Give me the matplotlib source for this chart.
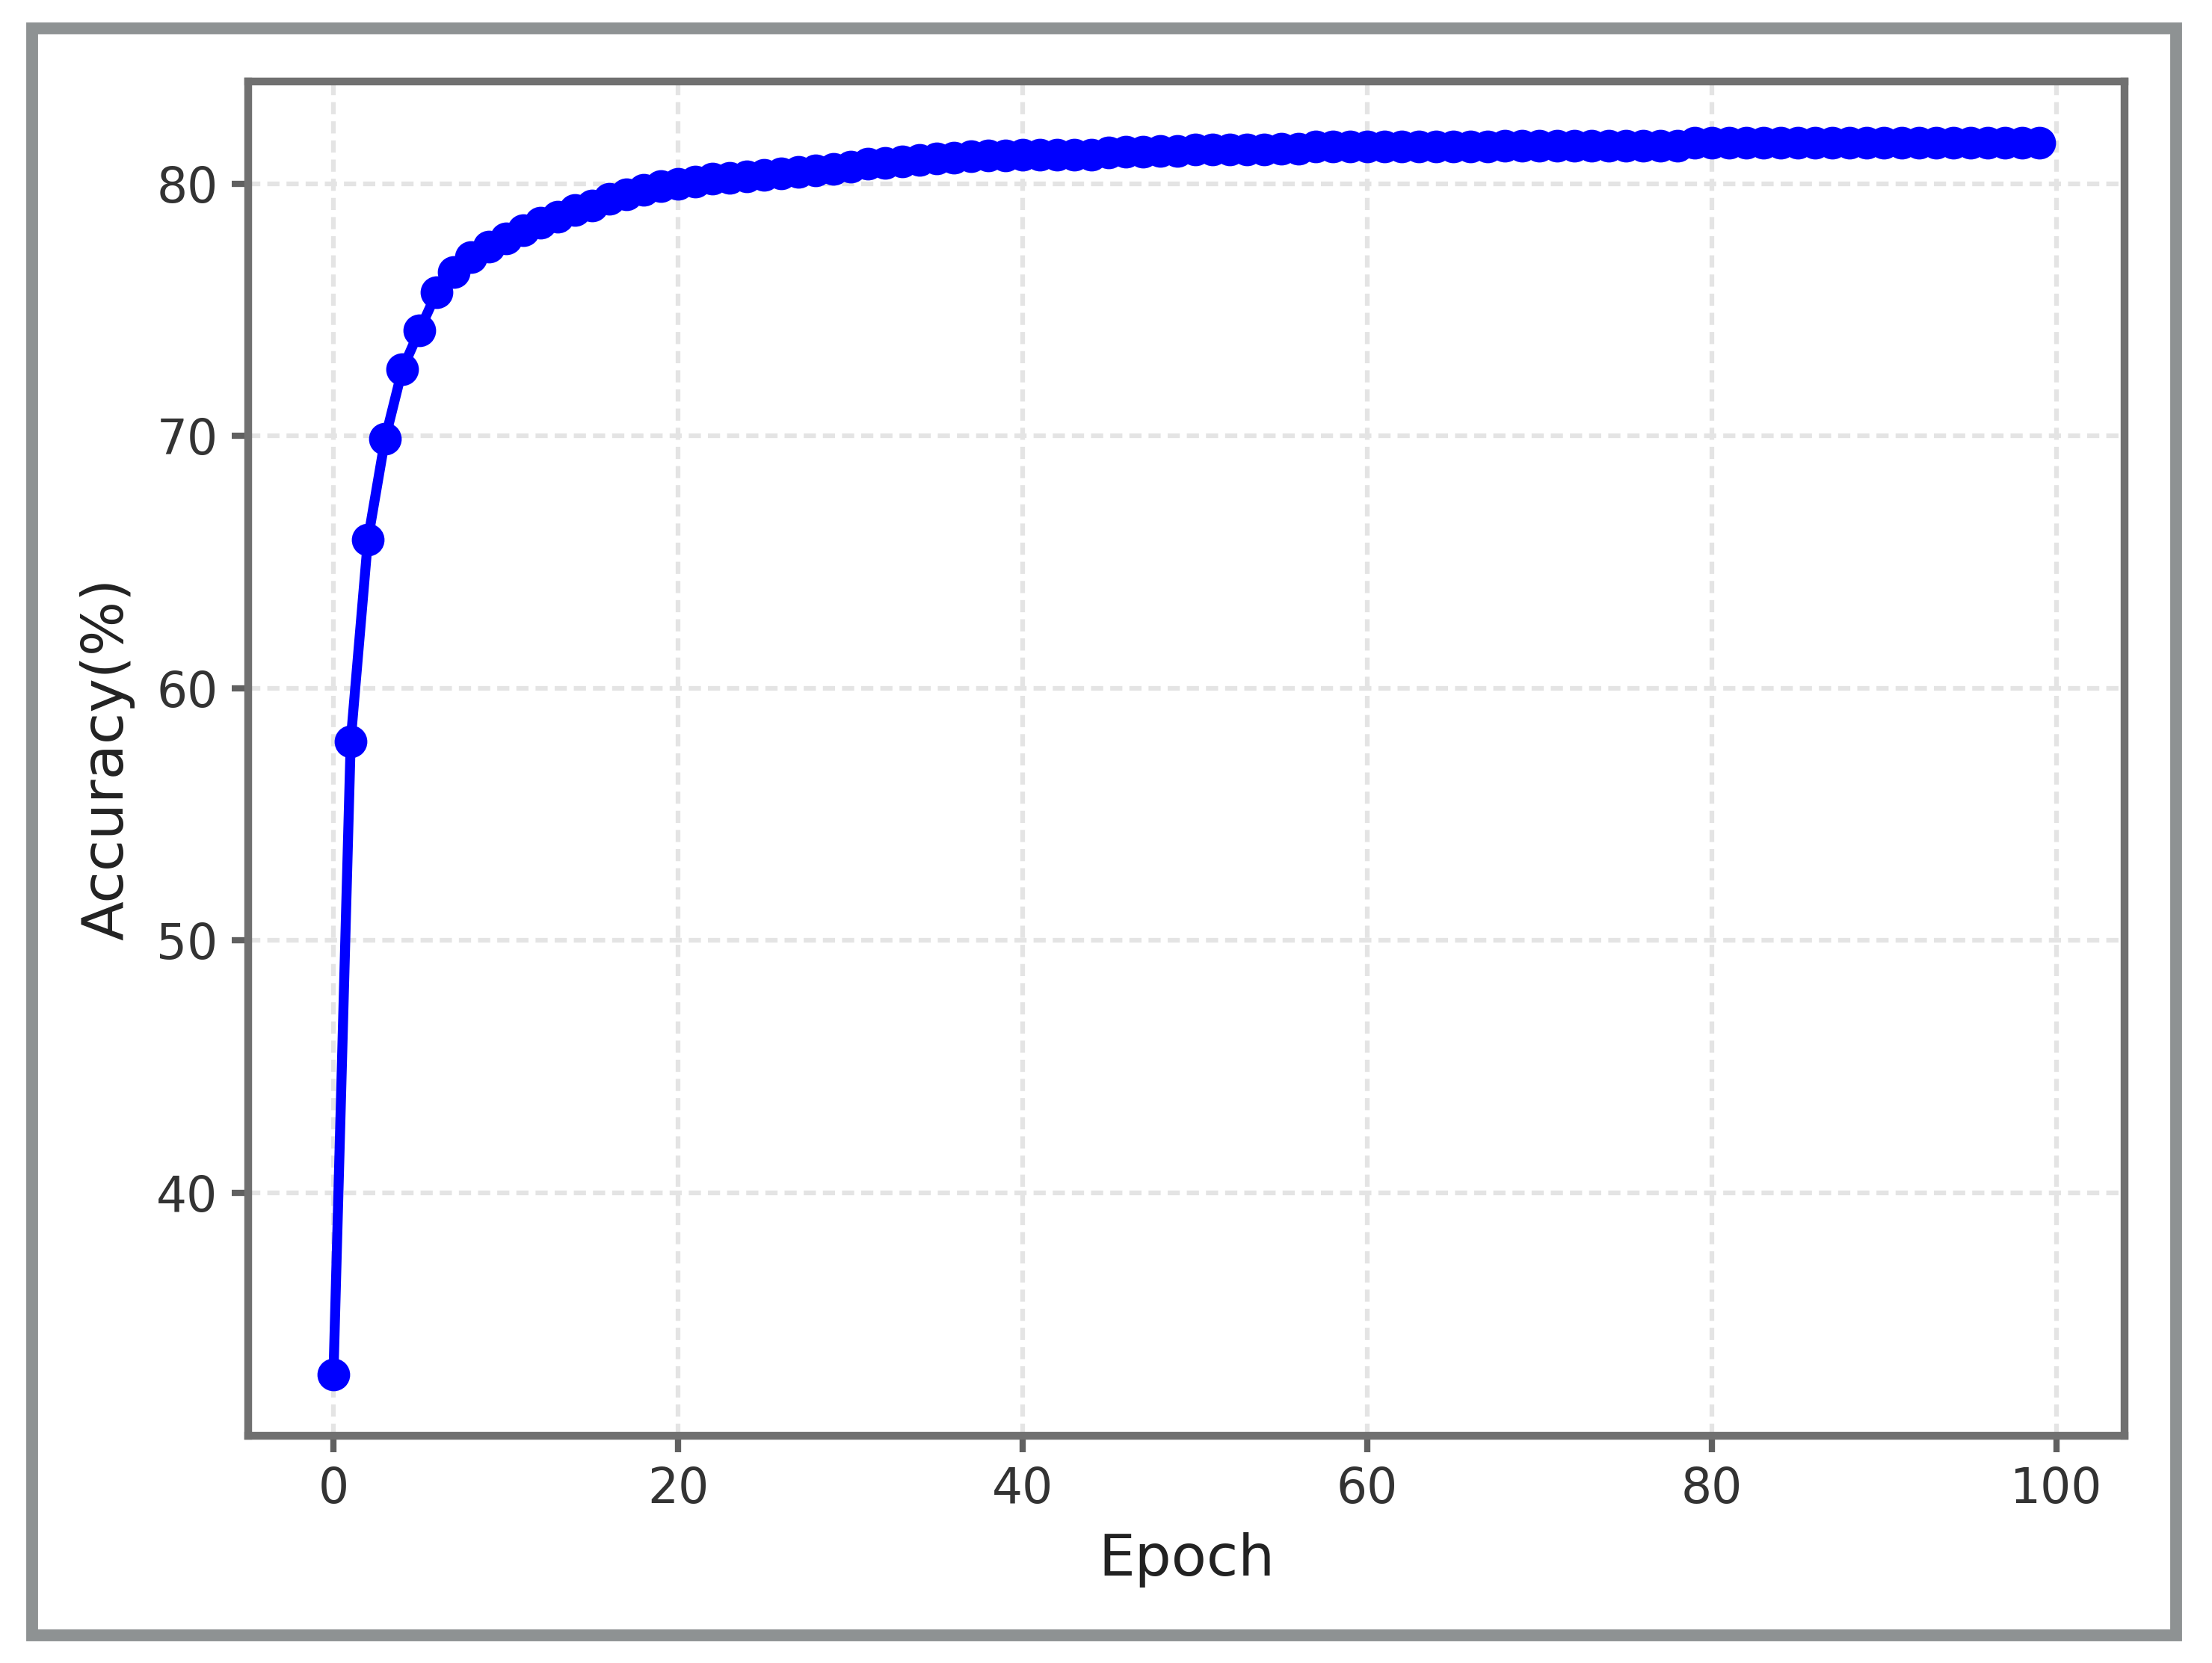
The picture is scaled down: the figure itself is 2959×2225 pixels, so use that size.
import numpy as np
import matplotlib
matplotlib.use("Agg")
import matplotlib.pyplot as plt
from matplotlib.patches import Rectangle

# accuracy per epoch
epochs = list(range(100))
accuracy = [
    32.8, 57.9, 65.9, 69.9, 72.65, 74.2, 75.7, 76.5, 77.1, 77.5,
    77.85, 78.15, 78.45, 78.7, 78.95, 79.15, 79.4, 79.6, 79.75, 79.9,
    80.0, 80.1, 80.2, 80.25, 80.3, 80.35, 80.42, 80.48, 80.53, 80.6,
    80.68, 80.8, 80.83, 80.88, 80.95, 81.0, 81.05, 81.1, 81.12, 81.14,
    81.15, 81.15, 81.16, 81.15, 81.17, 81.25, 81.27, 81.28, 81.29, 81.3,
    81.35, 81.36, 81.36, 81.37, 81.37, 81.38, 81.38, 81.47, 81.47, 81.48,
    81.48, 81.48, 81.48, 81.49, 81.49, 81.49, 81.49, 81.49, 81.5, 81.5,
    81.5, 81.5, 81.5, 81.5, 81.5, 81.51, 81.51, 81.51, 81.51, 81.62,
    81.62, 81.62, 81.62, 81.62, 81.62, 81.62, 81.62, 81.62, 81.62, 81.62,
    81.62, 81.62, 81.62, 81.62, 81.62, 81.62, 81.62, 81.62, 81.62, 81.62,
]
x_ticks = [0, 20, 40, 60, 80, 100]
y_ticks = [40, 50, 60, 70, 80]

fig = plt.figure(figsize=(2959 / 300, 2225 / 300), dpi=300)
ax = fig.add_axes([332 / 2959, 1 - 1921 / 2225, (2842 - 332) / 2959, (1921 - 109) / 2225])

ax.plot(epochs, accuracy, color='#0000ff', linewidth=3.2,
        marker='o', markersize=9.5, zorder=3)

ax.set_xticks(x_ticks)
ax.set_yticks(y_ticks)
ax.grid(True, color='#e4e4e4', linewidth=1.5, linestyle=(0, (2.6, 1.5)), zorder=0)

for s in ax.spines.values():
    s.set_color('#707070')
    s.set_linewidth(2.5)
ax.tick_params(axis='both', length=5.2, width=2.0, color='#606060',
               labelsize=15.5, labelcolor='#333333', pad=4.5)

ax.set_xlabel("Epoch", fontsize=18.5, color='#222222', labelpad=6)
ax.set_ylabel("Accuracy(%)", fontsize=18.5, color='#222222', labelpad=7)

# grey frame around the whole figure
x0, x1 = 43 / 2959, 2911 / 2959
y0, y1 = 1 - 2188 / 2225, 1 - 38 / 2225
fig.patches.append(Rectangle((x0, y0), x1 - x0, y1 - y0, transform=fig.transFigure,
                             fill=False, edgecolor='#8e9293', linewidth=3.8))

fig.savefig("out.png", dpi=300)
